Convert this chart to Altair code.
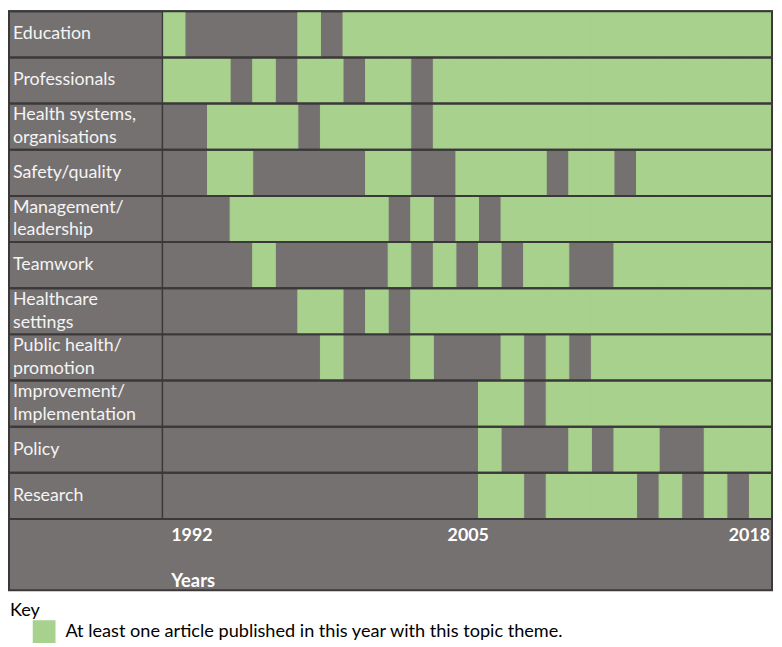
import altair as alt
import pandas as pd

# ---- data -------------------------------------------------------------
years = [1992, 1993, 1994, 1995, 1996, 1997, 1998, 1999, 2000, 2001, 2002,
         2003, 2004, 2005, 2006, 2007, 2008, 2009, 2010, 2011, 2012, 2013,
         2014, 2015, 2016, 2017, 2018]

topics = ["Education", "Professionals", "Health systems, organisations",
          "Safety/quality", "Management/leadership", "Teamwork",
          "Healthcare settings", "Public health/promotion",
          "Improvement/Implementation", "Policy", "Research"]

topic_labels = ["Education", "Professionals", "Health systems,\norganisations",
                "Safety/quality", "Management/\nleadership", "Teamwork",
                "Healthcare\nsettings", "Public health/\npromotion",
                "Improvement/\nImplementation", "Policy", "Research"]

# 1 = at least one article published in that year with the topic theme
education     = [1,0,0,0,0,0,1,0,1,1,1,1,1,1,1,1,1,1,1,1,1,1,1,1,1,1,1]
professionals = [1,1,1,0,1,0,1,1,0,1,1,0,1,1,1,1,1,1,1,1,1,1,1,1,1,1,1]
health_systems= [0,0,1,1,1,1,0,1,1,1,1,0,1,1,1,1,1,1,1,1,1,1,1,1,1,1,1]
safety        = [0,0,1,1,0,0,0,0,0,1,1,0,0,1,1,1,1,0,1,1,0,1,1,1,1,1,1]
management    = [0,0,0,1,1,1,1,1,1,1,0,1,0,1,0,1,1,1,1,1,1,1,1,1,1,1,1]
teamwork      = [0,0,0,0,1,0,0,0,0,0,1,0,1,0,1,0,1,1,0,0,1,1,1,1,1,1,1]
settings      = [0,0,0,0,0,0,1,1,0,1,0,1,1,1,1,1,1,1,1,1,1,1,1,1,1,1,1]
public_health = [0,0,0,0,0,0,0,1,0,0,0,1,0,0,0,1,0,1,0,1,1,1,1,1,1,1,1]
improvement   = [0,0,0,0,0,0,0,0,0,0,0,0,0,0,1,1,0,1,1,1,1,1,1,1,1,1,1]
policy        = [0,0,0,0,0,0,0,0,0,0,0,0,0,0,1,0,0,0,1,0,1,1,0,0,1,1,1]
research      = [0,0,0,0,0,0,0,0,0,0,0,0,0,0,1,1,0,1,1,1,1,0,1,0,1,0,1]

year_ticks = [1992, 2005, 2018]
axis_title = "Years"
key_title = "Key"
key_label = "At least one article published in this year with this topic theme."

# ---- tables -----------------------------------------------------------
series = [education, professionals, health_systems, safety, management,
          teamwork, settings, public_health, improvement, policy, research]
rows = []
for t, flags in zip(topics, series):
    for y, f in zip(years, flags):
        rows.append({"topic": t, "year": y, "present": f, "key": key_label})
cells_df = pd.DataFrame(rows)
topic_df = pd.DataFrame({"topic": topics, "label": topic_labels,
                         "lines": [lab.count("\n") + 1 for lab in topic_labels]})
ticks_df = pd.DataFrame({"year": year_ticks})
one_df = pd.DataFrame({"k": [0]})

# ---- style ------------------------------------------------------------
GREY = "#767171"
GREEN = "#A9D18E"
LINE = "#3A3838"
FONT = "Lato"
W, H = 616, 513

x_scale = alt.Scale(domain=years, paddingInner=0, paddingOuter=0)
y_scale = alt.Scale(domain=topics, paddingInner=0, paddingOuter=0)

frame = alt.Chart(one_df).mark_rect(fill=GREY, stroke=LINE, strokeWidth=2).encode(
    x=alt.value(-155), x2=alt.value(616), y=alt.value(0), y2=alt.value(585)
)

cells = alt.Chart(cells_df).transform_filter("datum.present == 1").mark_rect(
    stroke=GREEN, strokeWidth=1
).encode(
    x=alt.X("year:O", scale=x_scale, axis=None),
    y=alt.Y("topic:N", scale=y_scale, axis=None),
    color=alt.Color(
        "key:N",
        scale=alt.Scale(domain=[key_label], range=[GREEN]),
        legend=alt.Legend(
            title=key_title, orient="none", legendX=-154, legendY=597,
            direction="vertical", symbolType="square", symbolSize=529,
            symbolOffset=23, symbolStrokeWidth=0, symbolOpacity=1,
            labelFont=FONT, labelFontSize=18.3, labelColor="black",
            labelOffset=10, labelLimit=0,
            titleFont=FONT, titleFontSize=18.3, titleFontWeight="normal",
            titleColor="black", titlePadding=0, padding=0,
        ),
    ),
)

row_lines = alt.Chart(topic_df).mark_rect(fill="transparent", stroke=LINE, strokeWidth=2).encode(
    y=alt.Y("topic:N", scale=y_scale, axis=None),
    x=alt.value(-155), x2=alt.value(616),
)

vline = alt.Chart(one_df).mark_rule(color=LINE, strokeWidth=1.5).encode(
    x=alt.value(0), y=alt.value(0), y2=alt.value(H)
)

def label_layer(n_lines, dy):
    return alt.Chart(topic_df).transform_filter(f"datum.lines == {n_lines}").mark_text(
        align="left", baseline="middle", lineBreak="\n", font=FONT,
        fontSize=18, color="#F4F4F4", lineHeight=23, dy=dy
    ).encode(
        y=alt.Y("topic:N", scale=y_scale, axis=None),
        x=alt.value(-151),
        text="label:N",
    )

labels1 = label_layer(1, 0)
labels2 = label_layer(2, -11.5)

def tick_layer(year, align, band, dx):
    return alt.Chart(ticks_df).transform_filter(f"datum.year == {year}").mark_text(
        align=align, baseline="alphabetic", font=FONT, fontSize=18,
        fontWeight="bold", color="white", dx=dx
    ).encode(
        x=alt.X("year:O", scale=x_scale, axis=None, bandPosition=band),
        y=alt.value(535.5),
        text="year:N",
    )

t1 = tick_layer(1992, "left", 0, 9)
t2 = tick_layer(2005, "center", 0.5, 1)
t3 = tick_layer(2018, "right", 1, -2)

years_title = alt.Chart(one_df).mark_text(
    align="left", baseline="alphabetic", font=FONT, fontSize=18.5,
    fontWeight="bold", color="white"
).encode(x=alt.value(9), y=alt.value(582), text=alt.value(axis_title))

chart = alt.layer(frame, cells, row_lines, vline, labels1, labels2, t1, t2, t3, years_title).properties(
    width=W, height=H,
    padding={"left": 156, "top": 0, "right": 2, "bottom": 126},
    autosize="none",
    background="white",
).configure_view(stroke=None)

chart.save("out.html", embed_options={"renderer": "svg", "actions": False})
